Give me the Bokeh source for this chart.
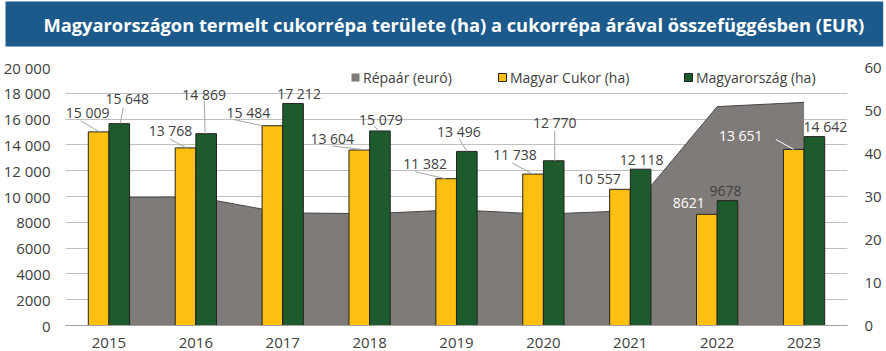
from bokeh.plotting import figure
from bokeh.models import (Range1d, LinearAxis, FixedTicker, Legend, LegendItem,
                          ColumnDataSource, LabelSet, Title)
from bokeh.core.properties import value
from bokeh.embed import file_html
from bokeh.resources import INLINE

# ---------------- data ----------------
title_text = "Magyarországon termelt cukorrépa területe (ha) a cukorrépa árával összefüggésben (EUR)"
years = ["2015", "2016", "2017", "2018", "2019", "2020", "2021", "2022", "2023"]
repaar = [29.8, 29.9, 26.2, 26.0, 26.9, 25.9, 26.7, 50.9, 51.9]          # Répaár (euró), right axis
magyar_cukor = [15009, 13768, 15484, 13604, 11382, 11738, 10557, 8621, 13651]  # Magyar Cukor (ha)
magyarorszag = [15648, 14869, 17212, 15079, 13496, 12770, 12118, 9678, 14642]  # Magyarország (ha)
series_names = ["Répaár (euró)", "Magyar Cukor (ha)", "Magyarország (ha)"]
left_ticks = [0, 2000, 4000, 6000, 8000, 10000, 12000, 14000, 16000, 18000, 20000]
right_ticks = [0, 10, 20, 30, 40, 50, 60]

# ---------------- style ----------------
FONT = "Open Sans"
TXT = "#404040"
BLUE = "#1c5a8b"
YEL = "#fdc010"
GRN = "#1e5b2c"
GRAY = "#7f7b78"
OUT = "#222222"

W, H = 886, 351
ML, MR, MT, MB = 62, 39, 67, 26
FW, FH = W - ML - MR, H - MT - MB   # plot frame size (px)
LMAX, RMAX = 20000, 60
BAR_W = 0.237
DODGE = 0.119

# label offsets in px relative to bar top centre (dx right, dy up) -- style only
y_dx = [-11, -15, -24, -27, -21, -18, -21, -18, -53]
y_dy = [19, 17, 13, 12, 15, 20, 11, 11, 14]
g_dx = [8, -2, 6, 1, -8, 1, 1, -2, 11]
g_dy = [25, 39, 10, 11, 20, 38, 10, 10, 10]
y_lbl_color = [TXT] * 7 + ["white", "white"]
# leader lines: (start dx, start up, end dx, end up) px relative to bar top centre, None = no line
y_lead = [(-18, 11, 1, 0), (-16, 9, 1, 0), (-38, 6, -10, 0), (-27, 4, 8, 0),
          (-31, 7, -1, 0), (-21, 11, 0, 0), None, None, (-18, 10, 0, 0)]
g_lead = [(4, 16, 1, 0), (-2, 33, -1, 0), None, (-6, 5, -1, 0),
          (-8, 13, 0, 0), (1, 30, 1, 0), None, None, None]


def fmt(v):
    return f"{v:,}".replace(",", " ") if v >= 10000 else str(v)


idx = list(range(len(years)))
px_x = FW / len(years)          # px per category unit
px_y = FH / LMAX                # px per left-axis unit

p = figure(width=W, height=H, x_range=Range1d(-0.5, len(years) - 0.5),
           y_range=Range1d(0, LMAX), toolbar_location=None, output_backend="svg",
           min_border_left=ML, min_border_right=MR, min_border_top=MT, min_border_bottom=MB,
           outline_line_color=None, background_fill_color="white", border_fill_color="white")
p.extra_y_ranges = {"right": Range1d(0, RMAX)}

# spacer between the title band and the plot frame
p.add_layout(Title(text=" ", text_font_size="1px", standoff=16), "above")
# title with a blue band as its background box
p.title = Title(text=title_text, align="left", vertical_align="top", offset=2 - ML,
                standoff=0, text_color="white",
                text_font=FONT, text_font_style="bold", text_font_size="18.3px",
                background_fill_color=BLUE, border_line_color=None,
                padding=dict(left=38, right=19, top=10, bottom=10))

area = p.varea(x=idx, y1=0, y2=repaar, y_range_name="right", fill_color=GRAY)
p.line(x=idx, y=repaar, y_range_name="right", line_color="#4a4644", line_width=1)

xs_y = [i - DODGE for i in idx]
xs_g = [i + DODGE for i in idx]
bar_y = p.vbar(x=xs_y, top=magyar_cukor, width=BAR_W, fill_color=YEL,
               line_color=OUT, line_width=1)
bar_g = p.vbar(x=xs_g, top=magyarorszag, width=BAR_W, fill_color=GRN,
               line_color=OUT, line_width=1)


# leader lines
def leaders(xs, vals, leads, color):
    x0, y0, x1, y1 = [], [], [], []
    for x, v, l in zip(xs, vals, leads):
        if l is None:
            continue
        x0.append(x + l[0] / px_x); y0.append(v + l[1] / px_y)
        x1.append(x + l[2] / px_x); y1.append(v + l[3] / px_y)
    p.segment(x0=x0, y0=y0, x1=x1, y1=y1, line_color=color, line_width=1)


leaders(xs_y[:8], magyar_cukor[:8], y_lead[:8], "#a6a6a6")
leaders(xs_y[8:], magyar_cukor[8:], y_lead[8:], "white")
leaders(xs_g, magyarorszag, g_lead, "#a6a6a6")

lsrc_y = ColumnDataSource(dict(x=xs_y, y=magyar_cukor, t=[fmt(v) for v in magyar_cukor],
                               dx=y_dx, dy=y_dy, c=y_lbl_color))
lsrc_g = ColumnDataSource(dict(x=xs_g, y=magyarorszag, t=[fmt(v) for v in magyarorszag],
                               dx=g_dx, dy=g_dy, c=[TXT] * len(years)))
for src in (lsrc_y, lsrc_g):
    p.add_layout(LabelSet(x="x", y="y", text="t", x_offset="dx", y_offset="dy",
                          text_color="c", source=src, text_align="center",
                          text_baseline="middle", text_font=value(FONT),
                          text_font_size=value("14px")))

# axes
p.xaxis.ticker = FixedTicker(ticks=idx)
p.xaxis.major_label_overrides = {i: y for i, y in zip(idx, years)}
p.yaxis.ticker = FixedTicker(ticks=left_ticks)
p.yaxis.major_label_overrides = {t: fmt(t) for t in left_ticks}
p.add_layout(LinearAxis(y_range_name="right", ticker=FixedTicker(ticks=right_ticks)), "right")

for ax in p.axis:
    ax.major_tick_line_color = None
    ax.minor_tick_line_color = None
    ax.major_label_text_font = FONT
    ax.major_label_text_font_size = "15px"
    ax.major_label_text_color = TXT
    ax.axis_line_color = None
p.xaxis.axis_line_color = "#a0a0a0"
p.xaxis.major_label_standoff = 6
p.yaxis[0].major_label_standoff = 9
p.yaxis[1].major_label_standoff = 11

p.xgrid.visible = False
p.ygrid.ticker = FixedTicker(ticks=left_ticks)
p.ygrid.grid_line_color = "#c0c0c0"
p.ygrid.grid_line_width = 1

# legends (one per item for exact placement)
for r, name, lx in [(area, series_names[0], 285), (bar_y, series_names[1], 432),
                    (bar_g, series_names[2], 618)]:
    lg = Legend(items=[LegendItem(label=name, renderers=[r])], location=(lx, 238),
                orientation="horizontal", glyph_width=10, glyph_height=10,
                label_standoff=3, padding=0, margin=0, spacing=0,
                border_line_color=None, background_fill_alpha=0,
                label_text_font=FONT, label_text_font_size="14px",
                label_text_color=TXT, label_height=20, label_width=150)
    p.add_layout(lg, "center")

open("out.html", "w").write(file_html(p, INLINE))
